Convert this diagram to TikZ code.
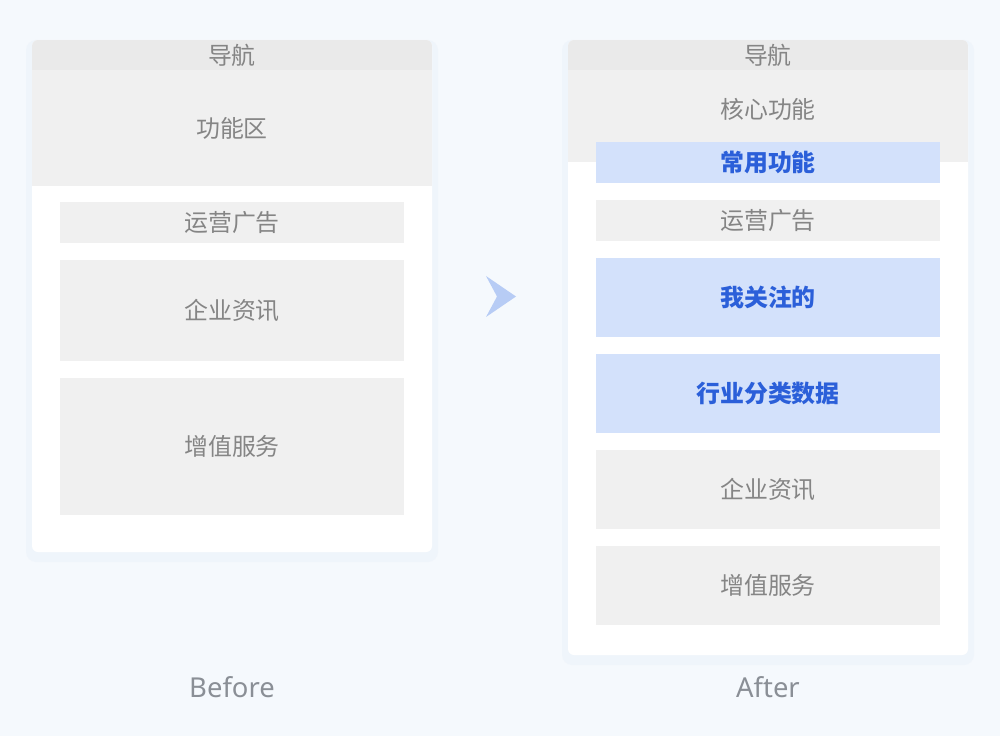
\documentclass[tikz,border=0pt]{standalone}
\usepackage{fontspec}
\setmainfont{Noto Sans}
\newfontfamily\cjk{Noto Sans CJK SC}
\usetikzlibrary{positioning}

\definecolor{pagebg}{HTML}{F5F9FD}
\definecolor{navgray}{HTML}{EAEAEA}
\definecolor{boxgray}{HTML}{F0F0F0}
\definecolor{boxblue}{HTML}{D3E1FB}
\definecolor{txtgray}{HTML}{858585}
\definecolor{txtblue}{HTML}{2B5FD9}
\definecolor{capgray}{HTML}{8A8F96}
\definecolor{chevblue}{HTML}{B7CCF5}
\definecolor{shadowblue}{HTML}{D8E4F2}

\begin{document}
\begin{tikzpicture}[
  x=0.02cm, y=-0.02cm,
  area/.style={fill=boxgray, inner sep=0pt, outer sep=0pt, minimum width=8cm,
               font=\cjk\fontsize{13.6pt}{16pt}\selectfont, text=txtgray},
  navbar/.style={area, fill=navgray, minimum height=0.6cm},
  block/.style={fill=boxgray, inner sep=0pt, outer sep=0pt, minimum width=6.88cm,
                font=\cjk\fontsize{13.6pt}{16pt}\selectfont, text=txtgray},
  hiblock/.style={block, fill=boxblue, text=txtblue,
                  font=\cjk\bfseries\fontsize{13.6pt}{16pt}\selectfont},
  card/.style={fill=white, rounded corners=0.12cm},
  halo/.style={fill=shadowblue, opacity=0.18, rounded corners=0.2cm},
  caption/.style={font=\fontsize{15.6pt}{18pt}\selectfont, text=capgray},
  node distance=0.34cm
]
\useasboundingbox[fill=pagebg] (0,0) rectangle (1000,736);

% Before
\fill[halo] (26,40) rectangle (438,562);
\fill[card] (32,40) rectangle (432,552);
\begin{scope}
  \clip[rounded corners=0.12cm] (32,40) rectangle (432,552);
  \node[navbar, anchor=north west] (navL) at (32,40) {导航};
  \node[area, minimum height=2.32cm, below=0pt of navL] (funcL) {功能区};
\end{scope}
\node[block, minimum height=0.82cm] (adL) at (232,222.5) {运营广告};
\node[block, minimum height=2.02cm, below=of adL] (newsL) {企业资讯};
\node[block, minimum height=2.74cm, below=of newsL] (vasL) {增值服务};
\node[caption] (before) at (232,687) {Before};

% arrow
\fill[chevblue] (486,276) -- (516,296.5) -- (486,317) -- (497,296.5) -- cycle;

% After
\fill[halo] (562,40) rectangle (974,665);
\fill[card] (568,40) rectangle (968,655);
\begin{scope}
  \clip[rounded corners=0.12cm] (568,40) rectangle (968,655);
  \node[navbar, anchor=north west] (navR) at (568,40) {导航};
  \node[area, minimum height=1.84cm, below=0pt of navR] (coreR) {};
\end{scope}
\node[font=\cjk\fontsize{13.6pt}{16pt}\selectfont, text=txtgray] at (768,109) {核心功能};
\node[hiblock, minimum height=0.82cm] (freqR) at (768,162.5) {常用功能};
\node[block, minimum height=0.82cm, below=of freqR] (adR) {运营广告};
\node[hiblock, minimum height=1.58cm, below=of adR] (followR) {我关注的};
\node[hiblock, minimum height=1.58cm, below=of followR] (dataR) {行业分类数据};
\node[block, minimum height=1.58cm, below=of dataR] (newsR) {企业资讯};
\node[block, minimum height=1.58cm, below=of newsR] (vasR) {增值服务};
\node[caption] (after) at (768,687) {After};

\end{tikzpicture}
\end{document}
